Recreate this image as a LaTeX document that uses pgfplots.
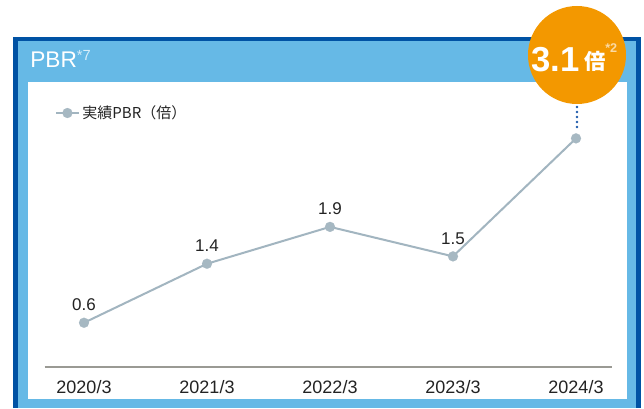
\documentclass[border=0pt]{standalone}
\usepackage{fontspec}
\setmainfont{Liberation Sans}
\newfontfamily\cjk{Noto Sans CJK JP}
\usepackage{pgfplots}
\pgfplotsset{compat=1.18}
\definecolor{darkblue}{RGB}{0,82,164}
\definecolor{lightblue}{RGB}{102,185,230}
\definecolor{orng}{RGB}{243,152,0}
\definecolor{linec}{RGB}{162,181,192}
\definecolor{markc}{RGB}{166,184,194}
\definecolor{axisc}{RGB}{154,154,148}
\definecolor{dotc}{RGB}{30,90,170}
\definecolor{txt}{RGB}{35,35,35}
\definecolor{paleblue}{RGB}{215,238,250}
\definecolor{palor}{RGB}{250,218,165}
\begin{document}
\begin{tikzpicture}
\begin{scope}[x=0.75pt,y=-0.75pt,yshift=306pt]
\path[use as bounding box] (0,0) rectangle (644,408);
\fill[darkblue] (13,37) rectangle (641,408);
\fill[lightblue] (18,41) rectangle (636,408);
\fill[white] (28,82) rectangle (627,399);
\node[anchor=base west, inner sep=0pt, text=white, font=\fontsize{17}{17}\selectfont] at (30,68) {PBR\raisebox{5.5pt}{\fontsize{11}{11}\selectfont\color{paleblue}*7}};
\end{scope}
\begin{axis}[
  at={(63pt,30.75pt)}, anchor=origin,
  x=92.25pt, y=55.3125pt,
  xmin=-0.32, xmax=4.29, ymin=0, ymax=4,
  axis x line=bottom, axis y line=none,
  axis line style={-, draw=axisc, line width=1.5pt},
  xtick={0,1,2,3,4}, xticklabels={2020/3,2021/3,2022/3,2023/3,2024/3},
  major tick length=0pt,
  xticklabel style={anchor=base, yshift=-20pt, font=\fontsize{13.5}{13.5}\selectfont, text=txt},
  ytick=\empty,
  clip=false,
  legend style={at={(axis cs:-0.27,3.444)}, anchor=west, draw=none, fill=none, font=\cjk\fontsize{11.25}{11.25}\selectfont, text=txt},
  nodes near coords, point meta=explicit symbolic,
  every node near coord/.append style={inner sep=0pt, yshift=9pt, font=\fontsize{12.75}{12.75}\selectfont, text=txt},
]
\addplot[linec, line width=1.5pt, mark=*, mark size=3.75pt, mark options={fill=markc, draw=markc, line width=0.1pt}] coordinates {(0,0.6)[0.6] (1,1.4)[1.4] (2,1.9)[1.9] (3,1.5)[1.5] (4,3.1)[]};
\addlegendentry{実績PBR（倍）}
\end{axis}
\begin{scope}[x=0.75pt,y=-0.75pt,yshift=306pt]
\draw[dotc, line width=1.9pt, line cap=round, dash pattern=on 0pt off 3.75pt] (577,107) -- (577,128);
\fill[orng] (577,55) circle (49);
\node[anchor=base west, inner sep=0pt, text=white, font=\bfseries\fontsize{26}{26}\selectfont] at (531,72) {3.1};
\node[anchor=base west, inner sep=0pt, text=white, font=\cjk\bfseries\fontsize{16}{16}\selectfont] at (584,70) {倍};
\node[anchor=base west, inner sep=0pt, text=palor, font=\bfseries\fontsize{9.5}{9.5}\selectfont] at (605,53) {*2};
\end{scope}
\end{tikzpicture}
\end{document}
